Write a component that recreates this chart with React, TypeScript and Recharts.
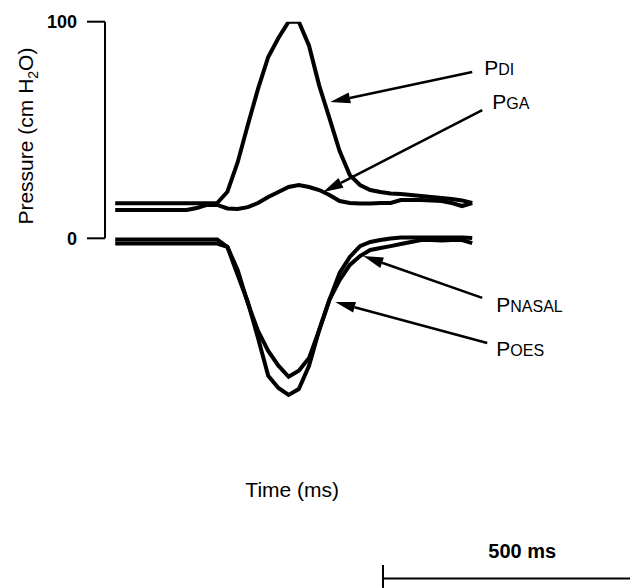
import React from "react";
import {
  LineChart,
  Line,
  XAxis,
  YAxis,
  ReferenceLine,
  ReferenceDot,
} from "recharts";

// time base of the traces (ms)
const TIME_MS = [
  0, 20, 40, 60, 80, 100, 120, 140, 160, 180, 200, 220, 240, 260, 280, 300, 320,
  340, 360, 380, 400, 420, 440, 460, 480, 500, 520, 540, 560, 580, 600, 620, 640,
  660, 680, 700,
];

// pressures in cm H2O
const P_DI = [
  16.2, 16.2, 16.2, 16.2, 16.2, 16.2, 16.2, 16.2, 16.2, 16.2, 16.3, 21.5, 35.0,
  52.3, 69.0, 83.7, 92.5, 100, 100, 88.9, 70.5, 55.5, 40.3, 29.2, 24.6, 22.3,
  21.4, 20.7, 20.5, 20.0, 19.5, 19.1, 18.6, 18.1, 17.5, 16.3,
];
const P_GA = [
  13.1, 13.1, 13.1, 13.1, 13.1, 13.1, 13.1, 13.1, 14.0, 15.4, 15.4, 13.8, 13.5,
  14.4, 16.3, 19.1, 21.4, 23.7, 24.6, 23.7, 22.3, 20.0, 17.2, 16.3, 16.1, 16.1,
  16.3, 16.3, 17.7, 17.7, 17.7, 17.5, 17.2, 16.3, 14.9, 16.3,
];
const P_OES = [
  -0.5, -0.5, -0.5, -0.5, -0.5, -0.5, -0.5, -0.5, -0.5, -0.5, -0.5, -4.0, -16.9,
  -29.4, -46.0, -63.5, -69.1, -72.3, -69.6, -58.9, -42.3, -28.4, -16.0, -8.6,
  -3.6, -1.7, -0.8, -0.1, 0.4, 0.4, 0.4, 0.4, 0.4, 0.4, 0.4, 0.1,
];
const P_NASAL = [
  -2.4, -2.4, -2.4, -2.4, -2.4, -2.4, -2.4, -2.4, -2.4, -2.4, -2.4, -4.0, -14.6,
  -29.9, -42.8, -52.0, -58.8, -63.9, -61.1, -55.3, -42.3, -28.4, -19.3, -12.3,
  -8.2, -5.4, -4.5, -3.6, -2.6, -1.7, -0.8, -0.8, -1.0, -0.8, -0.8, -2.2,
];

const Y_TICKS = [0, 100];

// labelled arrows, in data units (ms, cm H2O)
const NOTES = [
  { key: "pdi", big: "P", small: "DI", tail: [700, 76.8], tip: [421.6, 62.9], at: [723.5, 75.4] },
  { key: "pga", big: "P", small: "GA", tail: [719.6, 59.2], tip: [407.8, 21.4], at: [739.2, 59.7] },
  { key: "pnasal", big: "P", small: "NASAL", tail: [719.6, -27.5], tip: [486.3, -8.2], at: [747.1, -34.0] },
  { key: "poes", big: "P", small: "OES", tail: [729.4, -48.3], tip: [431.4, -29.4], at: [747.1, -54.3] },
];

const FONT = "'Liberation Sans', Arial, Helvetica, sans-serif";
const INK = "#000";

const rows = TIME_MS.map((t, i) => ({
  t,
  pdi: P_DI[i],
  pga: P_GA[i],
  poes: P_OES[i],
  pnasal: P_NASAL[i],
}));

function Arrow(props: any) {
  const { x1, y1, x2, y2 } = props;
  const dx = x2 - x1;
  const dy = y2 - y1;
  const len = Math.sqrt(dx * dx + dy * dy) || 1;
  const ux = dx / len;
  const uy = dy / len;
  const head = 20;
  const half = 5.5;
  const bx = x2 - ux * head;
  const by = y2 - uy * head;
  const pts = `${x2},${y2} ${bx - uy * half},${by + ux * half} ${bx + uy * half},${by - ux * half}`;
  return (
    <g>
      <line x1={x1} y1={y1} x2={bx} y2={by} stroke={INK} strokeWidth={2.5} />
      <polygon points={pts} fill={INK} />
    </g>
  );
}

function SeriesName({ cx, cy, big, small }: any) {
  return (
    <text x={cx} y={cy} fill={INK} fontFamily={FONT}>
      <tspan fontSize={21}>{big}</tspan>
      <tspan fontSize={16}>{small}</tspan>
    </text>
  );
}

export default function App() {
  return (
    <LineChart
      width={630}
      height={580}
      data={rows}
      margin={{ top: 13.7, right: 0, bottom: 3.1, left: 0 }}
    >
      <XAxis dataKey="t" type="number" domain={[-20, 1025]} hide allowDataOverflow />
      <YAxis
        type="number"
        domain={[-160, 100]}
        ticks={Y_TICKS}
        interval={0}
        width={97}
        allowDataOverflow
        axisLine={false}
        tickSize={18}
        tickMargin={10}
        tickLine={{ stroke: INK, strokeWidth: 2 }}
        tick={{ fill: INK, fontSize: 18, fontWeight: 700, fontFamily: FONT }}
      />
      <ReferenceLine
        segment={[{ x: -20, y: 0 }, { x: -20, y: 100 }]}
        stroke={INK}
        strokeWidth={2}
      />

      <Line type="linear" dataKey="pdi" stroke={INK} strokeWidth={4} dot={false} isAnimationActive={false} />
      <Line type="linear" dataKey="pga" stroke={INK} strokeWidth={4} dot={false} isAnimationActive={false} />
      <Line type="linear" dataKey="poes" stroke={INK} strokeWidth={4} dot={false} isAnimationActive={false} />
      <Line type="linear" dataKey="pnasal" stroke={INK} strokeWidth={4} dot={false} isAnimationActive={false} />

      {NOTES.map((n) => (
        <ReferenceLine
          key={`arrow-${n.key}`}
          segment={[{ x: n.tail[0], y: n.tail[1] }, { x: n.tip[0], y: n.tip[1] }]}
          ifOverflow="visible"
          shape={(p: any) => <Arrow {...p} />}
        />
      ))}
      {NOTES.map((n) => (
        <ReferenceDot
          key={`name-${n.key}`}
          x={n.at[0]}
          y={n.at[1]}
          ifOverflow="visible"
          shape={(p: any) => <SeriesName cx={p.cx} cy={p.cy} big={n.big} small={n.small} />}
        />
      ))}

      {/* axis titles */}
      <ReferenceDot
        x={-20}
        y={47.2}
        ifOverflow="visible"
        shape={(p: any) => {
          const x = p.cx - 72;
          const y = p.cy;
          return (
            <text
              x={x}
              y={y}
              transform={`rotate(-90, ${x}, ${y})`}
              textAnchor="middle"
              fill={INK}
              fontFamily={FONT}
              fontSize={21}
            >
              Pressure (cm H<tspan dy={5} fontSize={14}>2</tspan>
              <tspan dy={-5}>O)</tspan>
            </text>
          );
        }}
      />
      <ReferenceDot
        x={347}
        y={-119.4}
        ifOverflow="visible"
        shape={(p: any) => (
          <text x={p.cx} y={p.cy} textAnchor="middle" fill={INK} fontFamily={FONT} fontSize={21}>
            Time (ms)
          </text>
        )}
      />

      {/* 500 ms scale bar */}
      <ReferenceLine
        segment={[{ x: 525, y: -157 }, { x: 1025, y: -157 }]}
        ifOverflow="visible"
        stroke={INK}
        strokeWidth={2}
      />
      <ReferenceLine
        segment={[{ x: 525, y: -150.8 }, { x: 525, y: -161.4 }]}
        ifOverflow="visible"
        stroke={INK}
        strokeWidth={2}
      />
      <ReferenceDot
        x={798}
        y={-147.6}
        ifOverflow="visible"
        shape={(p: any) => (
          <text x={p.cx} y={p.cy} textAnchor="middle" fill={INK} fontFamily={FONT} fontSize={20} fontWeight={700}>
            500 ms
          </text>
        )}
      />
    </LineChart>
  );
}
